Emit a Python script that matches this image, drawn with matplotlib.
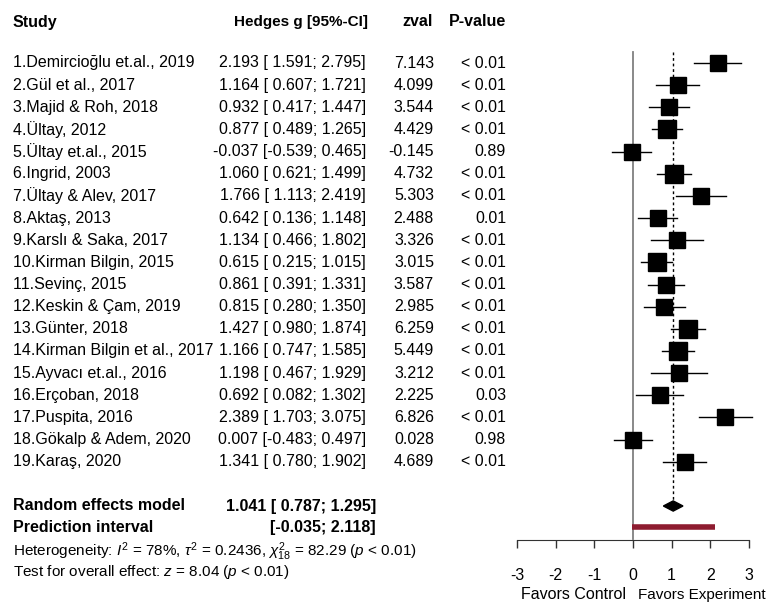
import numpy as np
import matplotlib
matplotlib.use('Agg')
import matplotlib.pyplot as plt
from matplotlib.transforms import blended_transform_factory

plt.rcParams['font.family'] = ['Liberation Sans', 'DejaVu Sans']
plt.rcParams['mathtext.fontset'] = 'custom'
plt.rcParams['mathtext.rm'] = 'Liberation Sans'
plt.rcParams['mathtext.it'] = 'Liberation Sans:italic'

studies = ['1.Demircioğlu et.al., 2019', '2.Gül et al., 2017', '3.Majid & Roh, 2018',
           '4.Ültay, 2012', '5.Ültay et.al., 2015', '6.Ingrid, 2003', '7.Ültay & Alev, 2017',
           '8.Aktaş, 2013', '9.Karslı & Saka, 2017', '10.Kirman Bilgin, 2015',
           '11.Sevinç, 2015', '12.Keskin & Çam, 2019', '13.Günter, 2018',
           '14.Kirman Bilgin et al., 2017', '15.Ayvacı et.al., 2016', '16.Erçoban, 2018',
           '17.Puspita, 2016', '18.Gökalp & Adem, 2020', '19.Karaş, 2020']
g = [2.193, 1.164, 0.932, 0.877, -0.037, 1.060, 1.766, 0.642, 1.134, 0.615,
     0.861, 0.815, 1.427, 1.166, 1.198, 0.692, 2.389, 0.007, 1.341]
lower = [1.591, 0.607, 0.417, 0.489, -0.539, 0.621, 1.113, 0.136, 0.466, 0.215,
         0.391, 0.280, 0.980, 0.747, 0.467, 0.082, 1.703, -0.483, 0.780]
upper = [2.795, 1.721, 1.447, 1.265, 0.465, 1.499, 2.419, 1.148, 1.802, 1.015,
         1.331, 1.350, 1.874, 1.585, 1.929, 1.302, 3.075, 0.497, 1.902]
zval = [7.143, 4.099, 3.544, 4.429, -0.145, 4.732, 5.303, 2.488, 3.326, 3.015,
        3.587, 2.985, 6.259, 5.449, 3.212, 2.225, 6.826, 0.028, 4.689]
pval = ['< 0.01', '< 0.01', '< 0.01', '< 0.01', '0.89', '< 0.01', '< 0.01', '0.01',
        '< 0.01', '< 0.01', '< 0.01', '< 0.01', '< 0.01', '< 0.01', '< 0.01', '0.03',
        '< 0.01', '0.98', '< 0.01']

re_g, re_lo, re_hi = 1.041, 0.787, 1.295
pi_lo, pi_hi = -0.035, 2.118
tau2 = 0.2436
x_ticks = [-3, -2, -1, 0, 1, 2, 3]

W, H = 777, 603
fig = plt.figure(figsize=(W / 100, H / 100), dpi=100)
ax = fig.add_axes([0, 0, 1, 1])

# pixel layout: row 1 at y=63px, 22.15px per row; zero at x=633px, 38.6px per unit
row0, drow = 63, 22.15
x0, dx = 633, 38.6
ax.set_xlim(-x0 / dx, (W - x0) / dx)
ax.set_ylim(1 + (H - row0) / drow, 1 - row0 / drow)

tr = blended_transform_factory(fig.transFigure, ax.transData)
fs = 11.5

def px(x):
    return x / W

# header
hdr = 1 + (22 - row0) / drow
ax.text(px(13), hdr, 'Study', transform=tr, fontsize=fs, fontweight='bold', va='center')
ax.text(px(368), hdr, 'Hedges g [95%-CI]', transform=tr, fontsize=11, fontweight='bold',
        va='center', ha='right')
ax.text(px(433), hdr, 'zval', transform=tr, fontsize=fs, fontweight='bold', va='center', ha='right')
ax.text(px(506), hdr, 'P-value', transform=tr, fontsize=fs, fontweight='bold', va='center', ha='right')

rows = np.arange(1, len(studies) + 1)
# vertical reference lines
ax.plot([0, 0], [0.5, 22.5], color='#808080', lw=1.3, zorder=1)
ax.plot([re_g, re_g], [0.5, 21 - 0.25], color='black', lw=1, ls=(0, (2, 2)), zorder=1)

for i, r in enumerate(rows):
    ax.text(px(13), r, studies[i], transform=tr, fontsize=fs, va='center')
    ax.text(px(366), r, f'{g[i]:.3f} [{lower[i]:6.3f}; {upper[i]:.3f}]', transform=tr,
            fontsize=fs, va='center', ha='right')
    ax.text(px(434), r, f'{zval[i]:.3f}', transform=tr, fontsize=fs, va='center', ha='right')
    ax.text(px(506), r, pval[i], transform=tr, fontsize=fs, va='center', ha='right')
    se = (upper[i] - lower[i]) / (2 * 1.96)
    w = 1 / (se ** 2 + tau2)
    side = 9.3 * np.sqrt(w) * 0.72
    ax.plot([lower[i], upper[i]], [r, r], color='black', lw=1, zorder=2)
    ax.plot(g[i], r, marker='s', color='black', markersize=side, zorder=3)

# random effects model
r_re = 21
ax.text(px(13), r_re, 'Random effects model', transform=tr, fontsize=fs, fontweight='bold', va='center')
ax.text(px(376), r_re, f'{re_g:.3f} [{re_lo:6.3f}; {re_hi:.3f}]', transform=tr, fontsize=fs,
        fontweight='bold', va='center', ha='right')
hd = 0.23
ax.fill([re_lo, re_g, re_hi, re_g], [r_re, r_re - hd, r_re, r_re + hd], color='black', zorder=3)

r_pi = 22 - 0.05
ax.text(px(13), r_pi, 'Prediction interval', transform=tr, fontsize=fs, fontweight='bold', va='center')
ax.text(px(376), r_pi, f'[{pi_lo:.3f}; {pi_hi:.3f}]', transform=tr, fontsize=fs,
        fontweight='bold', va='center', ha='right')
ax.plot([pi_lo, pi_hi], [r_pi, r_pi], color='#8E1C30', lw=4, solid_capstyle='butt', zorder=3)

ax.text(px(13), 1 + (552 - row0) / drow,
        r'Heterogeneity: $I^2$ = 78%, $\tau^2$ = 0.2436, $\chi^2_{18}$ = 82.29 ($p$ < 0.01)',
        transform=tr, fontsize=11, va='center')
ax.text(px(13), 1 + (572 - row0) / drow, r'Test for overall effect: $z$ = 8.04 ($p$ < 0.01)',
        transform=tr, fontsize=11, va='center')

# x axis
for s in ['top', 'left', 'right']:
    ax.spines[s].set_visible(False)
ax.spines['bottom'].set_position(('data', 1 + (540 - row0) / drow))
ax.spines['bottom'].set_bounds(-3, 3)
ax.spines['bottom'].set_color('#333333')
ax.set_xticks(x_ticks)
ax.set_xticklabels([str(t) for t in x_ticks])
ax.tick_params(axis='x', direction='out', length=6, width=1, color='#333333',
               labelsize=fs, pad=14)
ax.set_yticks([])

r_lab = 1 + (595 - row0) / drow
ax.text(-0.18, r_lab, 'Favors Control', fontsize=fs, va='center', ha='right')
ax.text(0.13, r_lab, 'Favors Experiment', fontsize=11, va='center', ha='left')

plt.savefig('out.png', dpi=100)
